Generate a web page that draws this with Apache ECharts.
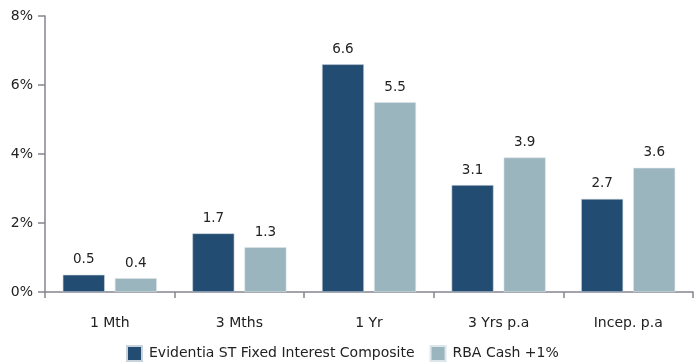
<!DOCTYPE html>
<html>
<head>
<meta charset="utf-8">
<script src="https://cdn.jsdelivr.net/npm/echarts@6/dist/echarts.min.js"></script>
<style>
  html, body { margin: 0; padding: 0; background: #fff; }
  #chart { width: 694px; height: 364px; }
</style>
</head>
<body>
<div id="chart"></div>
<script>
// Return periods and performance figures (%)
const categories = ['1 Mth', '3 Mths', '1 Yr', '3 Yrs p.a', 'Incep. p.a'];
const fundName = 'Evidentia ST Fixed Interest Composite';
const benchName = 'RBA Cash +1%';
const fundValues = [0.5, 1.7, 6.6, 3.1, 2.7];
const benchValues = [0.4, 1.3, 5.5, 3.9, 3.6];
const yTicks = [0, 2, 4, 6, 8];

const font = 'DejaVu Sans, Verdana, sans-serif';
const axisColor = '#858590';
const textColor = '#222';

const chart = echarts.init(document.getElementById('chart'), null, { renderer: 'canvas' });

const labelStyle = {
  show: true,
  position: 'top',
  distance: 8,
  color: textColor,
  fontFamily: font,
  fontSize: 13.5,
  formatter: p => p.value.toFixed(1)
};

chart.setOption({
  animation: false,
  grid: { left: 45, right: 1, top: 16, bottom: 72, containLabel: false },
  legend: {
    bottom: 2,
    left: 126,
    padding: 0,
    itemWidth: 15,
    itemHeight: 15,
    itemGap: 15,
    icon: 'rect',
    textStyle: { fontFamily: font, fontSize: 14, color: textColor, padding: [0, 0, 0, 2] },
    data: [fundName, benchName]
  },
  xAxis: {
    type: 'category',
    data: categories,
    axisLine: { lineStyle: { color: axisColor, width: 1.5 } },
    axisTick: { show: true, inside: false, length: 6, lineStyle: { color: axisColor, width: 1.5 } },
    axisLabel: { margin: 24, color: textColor, fontFamily: font, fontSize: 14 }
  },
  yAxis: {
    type: 'value',
    min: yTicks[0],
    max: yTicks[yTicks.length - 1],
    interval: 2,
    axisLine: { show: true, lineStyle: { color: axisColor, width: 1.5 } },
    axisTick: { show: true, inside: false, length: 7, lineStyle: { color: axisColor, width: 1.5 } },
    splitLine: { show: false },
    axisLabel: { margin: 12, color: textColor, fontFamily: font, fontSize: 14, formatter: v => v + '%' }
  },
  series: [
    {
      name: fundName,
      type: 'bar',
      data: fundValues,
      barWidth: 42,
      barGap: '24%',
      itemStyle: { color: '#234C72', borderColor: '#c9d3dc', borderWidth: 0.6 },
      label: labelStyle
    },
    {
      name: benchName,
      type: 'bar',
      data: benchValues,
      barWidth: 42,
      itemStyle: { color: '#9AB5BD', borderColor: '#dde6ea', borderWidth: 0.6 },
      label: labelStyle
    }
  ]
});
</script>
</body>
</html>
